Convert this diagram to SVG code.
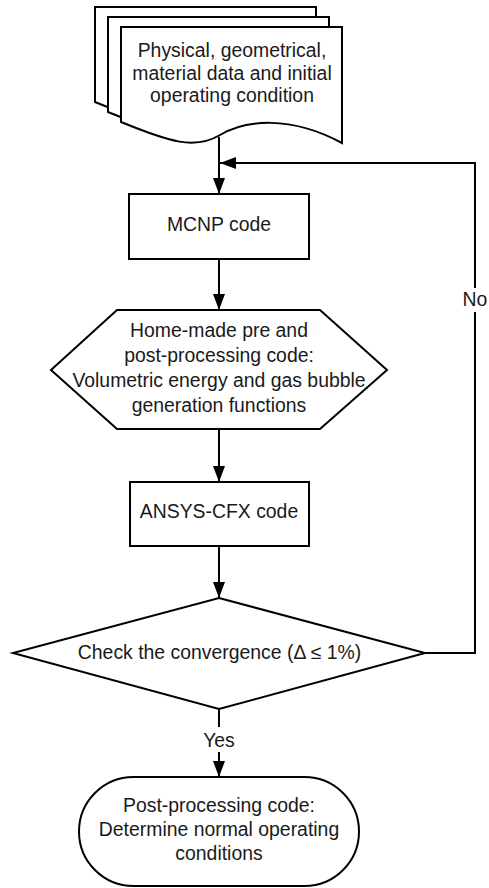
<svg xmlns="http://www.w3.org/2000/svg" xmlns:xlink="http://www.w3.org/1999/xlink" width="489" height="888" viewBox="0 0 489 888">
<style>
.sh{fill:#fff;stroke:#000;stroke-width:2;stroke-linejoin:miter}
.ln{fill:none;stroke:#000;stroke-width:2}
text{font-family:"Liberation Sans",Arial,sans-serif;font-size:19.4px;fill:#1a1a1a;text-anchor:middle}
.lb{fill:#fff;stroke:none}
</style>
<defs>
<path id="docshape" d="M0,0 H221 V116 C169,88 124,93 99,108 C74,123 49,115 0,95 Z"/>
<marker id="ah" markerUnits="userSpaceOnUse" markerWidth="16" markerHeight="12" viewBox="0 0 16 12" refX="16" refY="6" orient="auto">
<path d="M0,0 L16,6 L0,12 Z" fill="#000"/>
</marker>
</defs>
<rect width="489" height="888" fill="#fff"/>
<g id="connectors">
<line class="ln" x1="219" y1="137" x2="219" y2="194" marker-end="url(#ah)"/>
<line class="ln" x1="219" y1="259" x2="219" y2="310" marker-end="url(#ah)"/>
<line class="ln" x1="219" y1="429" x2="219" y2="482" marker-end="url(#ah)"/>
<line class="ln" x1="219" y1="546" x2="219" y2="598" marker-end="url(#ah)"/>
<line class="ln" x1="219" y1="709" x2="219" y2="777" marker-end="url(#ah)"/>
<polyline class="ln" points="425,653 475,653 475,163 220,163" marker-end="url(#ah)"/>
<rect class="lb" x="462" y="288" width="26" height="24"/>
<text x="475" y="306">No</text>
<rect class="lb" x="200" y="727" width="38" height="25"/>
<text x="219" y="747">Yes</text>
</g>
<g id="input">
<use href="#docshape" class="sh" transform="translate(95,7)"/>
<use href="#docshape" class="sh" transform="translate(108,17)"/>
<use href="#docshape" class="sh" transform="translate(121,27)"/>
<text x="232" y="57">Physical, geometrical,</text>
<text x="232" y="80">material data and initial</text>
<text x="232" y="102">operating condition</text>
</g>
<g id="mcnp">
<rect class="sh" x="129" y="194" width="180" height="65"/>
<text x="219" y="231">MCNP code</text>
</g>
<g id="homemade">
<polygon class="sh" points="117,310 320,310 387,370 320,429 117,429 51,370"/>
<text x="219" y="337">Home-made pre and</text>
<text x="219" y="362">post-processing code:</text>
<text x="219" y="387">Volumetric energy and gas bubble</text>
<text x="219" y="412">generation functions</text>
</g>
<g id="ansys">
<rect class="sh" x="130" y="482" width="179" height="64"/>
<text x="219" y="518">ANSYS-CFX code</text>
</g>
<g id="check">
<polygon class="sh" points="219,598 425,653 219,709 13,653"/>
<text x="219.5" y="659">Check the convergence (Δ ≤ 1%)</text>
</g>
<g id="post">
<rect class="sh" x="79" y="777" width="280" height="109" rx="54.5" ry="54.5"/>
<text x="219" y="812">Post-processing code:</text>
<text x="219" y="836">Determine normal operating</text>
<text x="219" y="860">conditions</text>
</g>
</svg>
